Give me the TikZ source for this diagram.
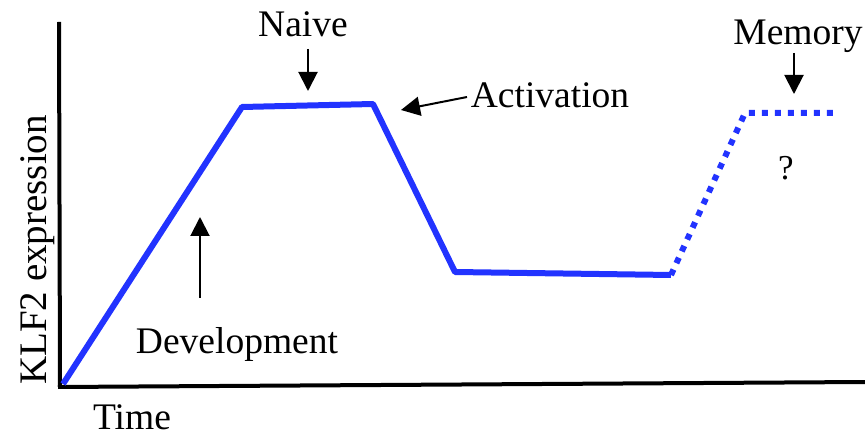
\documentclass[tikz,border=0pt]{standalone}
\usepackage{fontspec}
\setmainfont{Liberation Serif}
\usetikzlibrary{arrows.meta}
\definecolor{klfblue}{RGB}{34,51,255}
\begin{document}
\begin{tikzpicture}[x=1pt,y=-1pt,
  lbl/.style={font=\fontsize{37.5}{40}\selectfont, inner sep=0pt, anchor=base},
  curve/.style={draw=klfblue, line width=6pt, line join=round},
  dotcurve/.style={draw=klfblue, line width=6pt, dash pattern=on 6pt off 7pt},
  ptr/.style={line width=2pt, -{Triangle[length=19pt,width=19pt]}},
  axis/.style={line width=4pt}]
\useasboundingbox (0,0) rectangle (865,438);
% axes
\coordinate (ytop) at (59,22);
\coordinate (orig) at (60,387);
\coordinate (xend) at (865,382);
\draw[axis] (ytop) -- (orig);
\draw[axis] ([xshift=-2pt]orig) -- (xend);
% curve
\coordinate (p0) at (63,384);
\coordinate (p1) at (242,107);
\coordinate (p2) at (373,104);
\coordinate (p3) at (455,272);
\coordinate (p4) at (671,275);
\coordinate (p5) at (745,113);
\coordinate (p6) at (835,113);
\draw[curve] (p0) -- (p1) -- (p2) -- (p3) -- (p4);
\draw[dotcurve] (p4) -- (p5) -- (p6);
% labels
\node[lbl] (naive) at (303,37) {Naive};
\node[lbl] (act) at (550,108) {Activation};
\node[lbl] (mem) at (798,45) {Memory};
\node[lbl] (dev) at (237,353) {Development};
\node[lbl] (time) at (132,429) {Time};
\node[lbl, font=\fontsize{39}{42}\selectfont, rotate=90] (ylab) at (46,250) {KLF2 expression};
\node[lbl, font=\fontsize{35}{38}\selectfont] (q) at (786,180) {?};
% pointers
\coordinate (naiveT) at (308,91);
\coordinate (actT) at (401,110);
\coordinate (memT) at (794,94);
\coordinate (devT) at (200,217);
\draw[ptr] (308,49) -- (naiveT);
\draw[ptr] (467,97) -- (actT);
\draw[ptr] (794,53) -- (memT);
\draw[ptr] (200,298) -- (devT);
\end{tikzpicture}
\end{document}
